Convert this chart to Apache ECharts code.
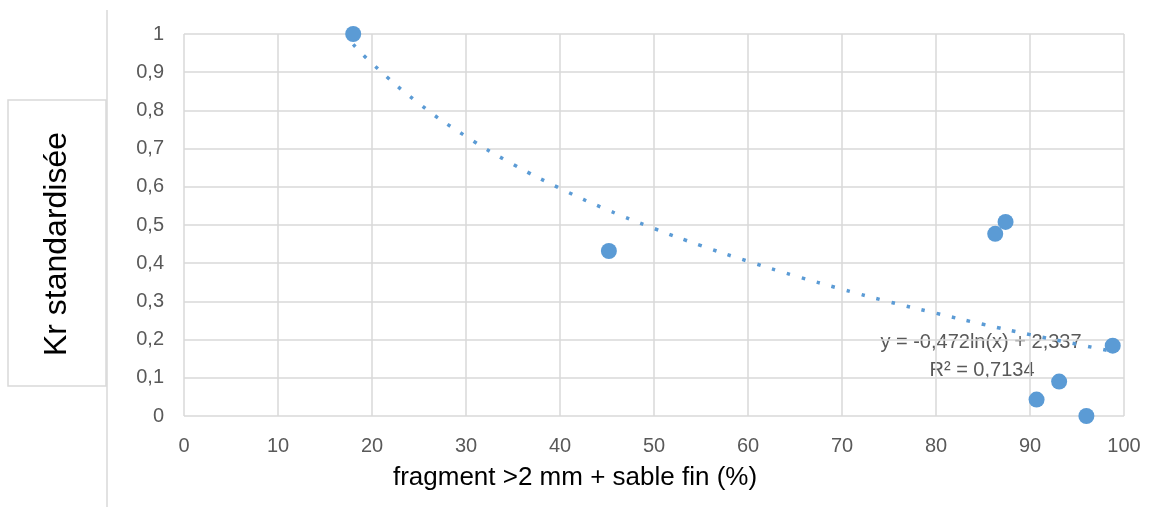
<!DOCTYPE html>
<html>
<head>
<meta charset="utf-8">
<script src="https://cdn.jsdelivr.net/npm/echarts@6/dist/echarts.min.js"></script>
<style>
  html, body { margin: 0; padding: 0; background: #fff; }
  #chart { width: 1166px; height: 507px; }
</style>
</head>
<body>
<div id="chart"></div>
<script>
// points
var fragSable = [18.0, 45.2, 86.3, 87.4, 98.8, 93.1, 90.7, 96.0];
var krStd = [1.0, 0.432, 0.477, 0.508, 0.184, 0.090, 0.043, 0.0];

// logarithmic trend line (y = -0,472ln(x) + 2,337) sampled
var trendX = [18, 20, 25, 30, 35, 40, 45, 50, 55, 60, 65, 70, 75, 80, 85, 90, 95, 99];
var trendY = [0.973, 0.923, 0.818, 0.732, 0.659, 0.596, 0.540, 0.491, 0.446, 0.405, 0.367, 0.332, 0.299, 0.269, 0.240, 0.213, 0.188, 0.168];

var eqText = ['y = -0,472ln(x) + 2,337', 'R² = 0,7134'];
var xTitle = 'fragment >2 mm + sable fin (%)';
var yTitle = 'Kr standardisée';

var FONT = 'Liberation Sans';
var BLUE = '#5b9bd5';

var pts = [];
for (var i = 0; i < fragSable.length; i++) {
    pts.push([fragSable[i], krStd[i]]);
}
var trend = [];
for (var j = 0; j < trendX.length; j++) {
    trend.push([trendX[j], trendY[j]]);
}

var myChart = echarts.init(document.getElementById('chart'));
var option = {
    animation: false,
    grid: { left: 184, right: 42, top: 34, bottom: 91 },
    xAxis: {
        type: 'value',
        min: 0, max: 100, interval: 10,
        axisLine: { show: false },
        axisTick: { show: false },
        axisLabel: { color: '#595959', fontFamily: FONT, fontSize: 20, margin: 20 },
        splitLine: { show: true, lineStyle: { color: '#d9d9d9', width: 1.5 } }
    },
    yAxis: {
        type: 'value',
        min: 0, max: 1, interval: 0.1,
        axisLine: { show: false },
        axisTick: { show: false },
        axisLabel: {
            color: '#595959', fontFamily: FONT, fontSize: 20, margin: 20,
            formatter: function (v) { return String(Math.round(v * 10) / 10).replace('.', ','); }
        },
        splitLine: { show: true, lineStyle: { color: '#d9d9d9', width: 1.5 } }
    },
    series: [
        {
            name: 'trend',
            type: 'line',
            data: trend,
            smooth: true,
            symbol: 'none',
            lineStyle: { color: BLUE, width: 3.5, type: [3.5, 12] },
            z: 2
        },
        {
            name: 'Kr',
            type: 'scatter',
            data: pts,
            symbolSize: 16,
            itemStyle: { color: BLUE, opacity: 1 },
            z: 3
        }
    ],
    graphic: [
        { type: 'line', shape: { x1: 107, y1: 10, x2: 107, y2: 507 }, style: { stroke: '#d9d9d9', lineWidth: 1.5 } },
        { type: 'rect', shape: { x: 8, y: 100, width: 98, height: 286 }, style: { fill: '#fff', stroke: '#d9d9d9', lineWidth: 1.5 } },
        {
            type: 'text', x: 57, y: 244, rotation: Math.PI / 2,
            style: { text: yTitle, font: '32px "' + FONT + '"', fill: '#000', align: 'center', verticalAlign: 'middle' }
        },
        {
            type: 'text', x: 575, y: 478,
            style: { text: xTitle, font: '26px "' + FONT + '"', fill: '#000', align: 'center', verticalAlign: 'middle' }
        },
        {
            type: 'text', x: 981, y: 342,
            style: { text: eqText[0], font: '20px "' + FONT + '"', fill: '#595959', align: 'center', verticalAlign: 'middle' }
        },
        {
            type: 'text', x: 982, y: 370,
            style: { text: eqText[1], font: '20px "' + FONT + '"', fill: '#595959', align: 'center', verticalAlign: 'middle' }
        }
    ]
};
myChart.setOption(option);
</script>
</body>
</html>
